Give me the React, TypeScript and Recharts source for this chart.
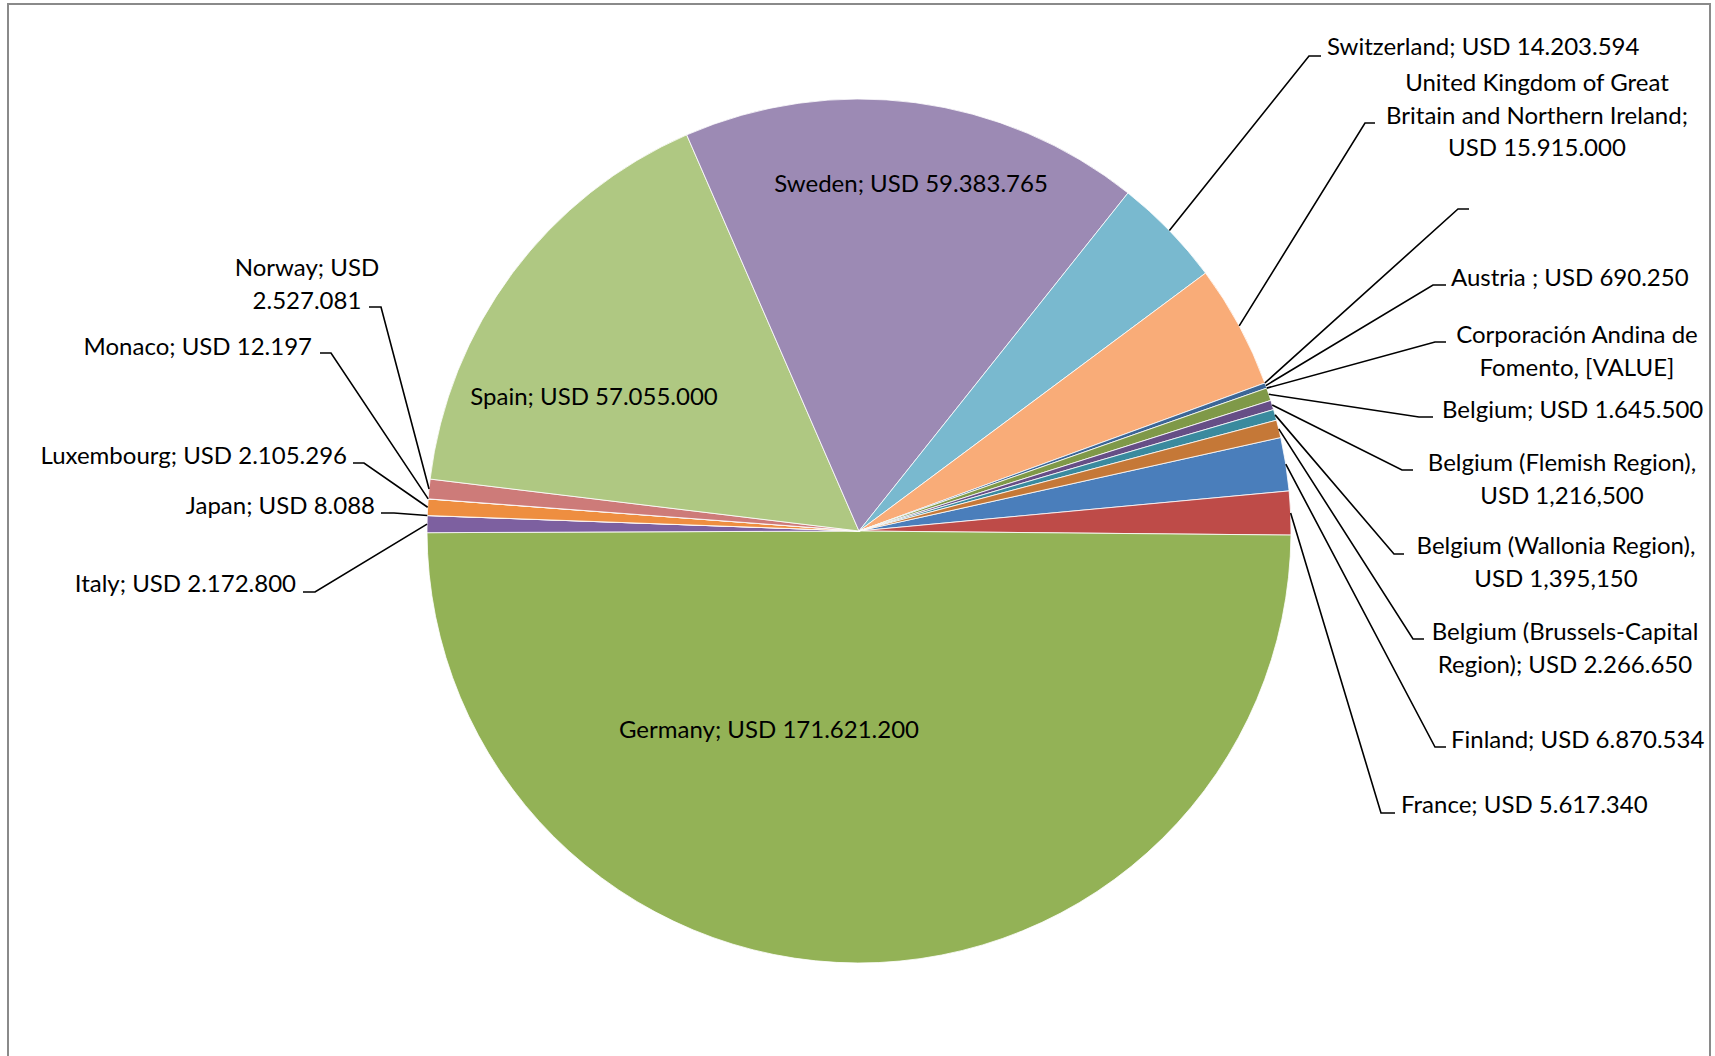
import React from 'react';
import { PieChart, Pie, Cell } from 'recharts';

// categories in drawing order (clockwise from the first slice)
const countries = [
  'Finland',
  'France',
  'Germany',
  'Italy',
  'Japan',
  'Luxembourg',
  'Monaco',
  'Norway',
  'Spain',
  'Sweden',
  'Switzerland',
  'United Kingdom of Great Britain and Northern Ireland',
  '',
  'Austria',
  'Corporación Andina de Fomento',
  'Belgium',
  'Belgium (Flemish Region)',
  'Belgium (Wallonia Region)',
  'Belgium (Brussels-Capital Region)',
];

// contributions in USD
const amounts = [
  6870534, 5617340, 171621200, 2172800, 8088, 2105296, 12197, 2527081, 57055000, 59383765,
  14203594, 15915000, 0, 690250, 0, 1645500, 1216500, 1395150, 2266650,
];

// data label text, wrapped like the original
const labelLines: string[][] = [
  ['Finland; USD 6.870.534'],
  ['France; USD 5.617.340'],
  ['Germany; USD 171.621.200'],
  ['Italy; USD 2.172.800'],
  ['Japan; USD 8.088'],
  ['Luxembourg; USD 2.105.296'],
  ['Monaco; USD 12.197'],
  ['Norway; USD', '2.527.081'],
  ['Spain; USD 57.055.000'],
  ['Sweden; USD 59.383.765'],
  ['Switzerland; USD 14.203.594'],
  ['United Kingdom of Great', 'Britain and Northern Ireland;', 'USD 15.915.000'],
  [''],
  ['Austria ; USD 690.250'],
  ['Corporación Andina de', 'Fomento, [VALUE]'],
  ['Belgium; USD 1.645.500'],
  ['Belgium (Flemish Region),', 'USD 1,216,500'],
  ['Belgium (Wallonia Region),', 'USD 1,395,150'],
  ['Belgium (Brussels-Capital', 'Region); USD 2.266.650'],
];

const colors = [
  '#4A7EBB', '#BE4B48', '#93B256', '#7D60A0', '#4BACC6', '#EE8E40', '#7C9FCC', '#CD7B79',
  '#AFC882', '#9C8AB4', '#79B9CF', '#F9AC78', '#3C6696', '#3C6696', '#9C3D3A', '#7F9948',
  '#664E86', '#3A8A9E', '#C57837',
];

const data = countries.map((name, i) => ({ name, value: amounts[i] }));

// label placement (Excel "best fit" layout): text anchor point, leader elbow and tick end
type Place = {
  x: number;
  y: number;
  anchor: 'start' | 'middle' | 'end';
  elbow?: [number, number];
  tick?: number;
};

const places: Place[] = [
  { x: 1451, y: 740, anchor: 'start', elbow: [1435, 747], tick: 1446 },
  { x: 1401, y: 805, anchor: 'start', elbow: [1381, 813], tick: 1395 },
  { x: 769, y: 730, anchor: 'middle' },
  { x: 296, y: 584, anchor: 'end', elbow: [315, 592], tick: 303 },
  { x: 375, y: 506, anchor: 'end', elbow: [394, 513], tick: 381 },
  { x: 347, y: 456, anchor: 'end', elbow: [364, 463], tick: 353 },
  { x: 312, y: 347, anchor: 'end', elbow: [331, 353], tick: 320 },
  { x: 307, y: 268, anchor: 'middle', elbow: [381, 307], tick: 369 },
  { x: 594, y: 397, anchor: 'middle' },
  { x: 911, y: 184, anchor: 'middle' },
  { x: 1327, y: 47, anchor: 'start', elbow: [1309, 56], tick: 1321 },
  { x: 1537, y: 83, anchor: 'middle', elbow: [1365, 123], tick: 1375 },
  { x: 1470, y: 202, anchor: 'start', elbow: [1458, 209], tick: 1469 },
  { x: 1451, y: 278, anchor: 'start', elbow: [1433, 285], tick: 1446 },
  { x: 1577, y: 335, anchor: 'middle', elbow: [1435, 342], tick: 1446 },
  { x: 1442, y: 410, anchor: 'start', elbow: [1419, 417], tick: 1433 },
  { x: 1562, y: 463, anchor: 'middle', elbow: [1402, 470], tick: 1413 },
  { x: 1556, y: 546, anchor: 'middle', elbow: [1394, 554], tick: 1404 },
  { x: 1565, y: 632, anchor: 'middle', elbow: [1413, 639], tick: 1424 },
];

const RAD = Math.PI / 180;
const LINE_H = 32.5;
const TEXT_DY = -1.5;
const FONT = 'Lato, "Open Sans", sans-serif';

const renderLabel = (props: any) => {
  const { cx, cy, midAngle, outerRadius, index } = props;
  const p = places[index];
  const lines = labelLines[index];
  if (!p) return null;
  let leader = null;
  if (p.elbow) {
    const ax = cx + outerRadius * Math.cos(-midAngle * RAD);
    const ay = cy + outerRadius * Math.sin(-midAngle * RAD);
    leader = (
      <polyline
        points={`${ax},${ay} ${p.elbow[0]},${p.elbow[1]} ${p.tick},${p.elbow[1]}`}
        fill="none"
        stroke="#000"
        strokeWidth={1.6}
      />
    );
  }
  return (
    <g key={`lbl-${index}`}>
      {leader}
      <text
        x={p.x}
        y={p.y}
        textAnchor={p.anchor}
        fontFamily={FONT}
        fontSize={24}
        fill="#000"
      >
        {lines.map((l, i) => (
          <tspan key={i} x={p.x} y={p.y + TEXT_DY + i * LINE_H} dominantBaseline="central">
            {l}
          </tspan>
        ))}
      </text>
    </g>
  );
};

export default function App() {
  return (
    <div style={{ position: 'relative', width: 1715, height: 1056, background: '#fff', overflow: 'hidden' }}>
      <style>{'body{margin:0}'}</style>
      <div
        style={{
          position: 'absolute',
          left: 7,
          top: 3,
          width: 1704,
          height: 1080,
          border: '2px solid #8a8a8a',
          boxSizing: 'border-box',
        }}
      />
      <div style={{ position: 'absolute', left: 0, top: 0 }}>
        <PieChart width={1715} height={1056} margin={{ top: 0, right: 0, bottom: 0, left: 0 }}>
          <Pie
            data={data}
            dataKey="value"
            nameKey="name"
            cx={859}
            cy={531}
            outerRadius={432}
            startAngle={12.5}
            endAngle={-347.5}
            stroke="#ffffff"
            strokeWidth={0.8}
            label={renderLabel}
            labelLine={false}
            isAnimationActive={false}
          >
            {data.map((d, i) => (
              <Cell key={d.name + i} fill={colors[i]} />
            ))}
          </Pie>
        </PieChart>
      </div>
    </div>
  );
}
